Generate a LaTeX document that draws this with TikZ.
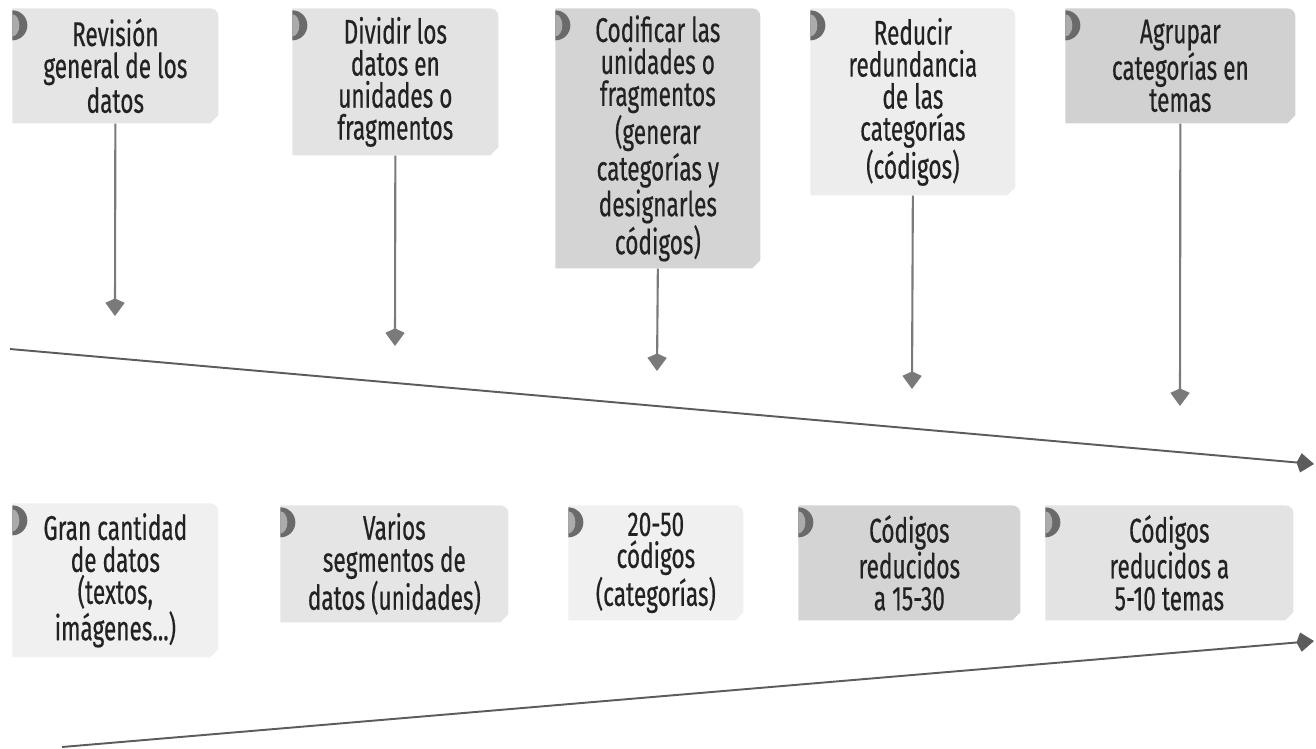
\documentclass[tikz,border=0pt]{standalone}
\usepackage{fontspec}
\setmainfont{Fira Sans}[FakeStretch=0.66, FakeBold=0.4]
\usetikzlibrary{arrows.meta, positioning}

\definecolor{linegray}{HTML}{5C5C5C}
\definecolor{arrowgray}{HTML}{7A7A7A}
\definecolor{tabgray}{HTML}{6A6A6A}
\definecolor{tablight}{HTML}{ABABAB}
\definecolor{textgray}{HTML}{222222}

\tikzset{
  stepbox/.style n args={3}{anchor=north west, inner sep=0pt, align=center,
    minimum width=#1*0.02cm, minimum height=#2*0.02cm,
    text=textgray, font=\fontsize{19.5}{18.2}\selectfont,
    path picture={
      \fill[#3] (path picture bounding box.south west) -- (path picture bounding box.north west)
        -- ([xshift=-0.16cm]path picture bounding box.north east)
        arc[start angle=90, end angle=0, radius=0.16cm]
        -- ([yshift=0.16cm]path picture bounding box.south east)
        -- ([xshift=-0.16cm]path picture bounding box.south east) -- cycle;
      % tab
      \fill[tabgray] ([yshift=-0.04cm]path picture bounding box.north west)
        arc[start angle=90, end angle=-90, x radius=0.3cm, y radius=0.3cm] -- cycle;
      \fill[tablight] ([yshift=-0.12cm]path picture bounding box.north west)
        arc[start angle=90, end angle=-90, x radius=0.14cm, y radius=0.22cm] -- cycle;
    }},
  drop/.style={arrowgray, line width=1.2pt, -{Kite[length=10pt, width=11pt, inset=2.5pt]}},
  mainline/.style={linegray, line width=1.1pt, -{Kite[length=10pt, width=11pt, inset=2.5pt]}},
}

\begin{document}
\begin{tikzpicture}[x=0.02cm, y=-0.02cm]
  \useasboundingbox (0,0) rectangle (1316,748);

  % Steps (top row)
  \node[stepbox={206}{115}{black!10}] (t1) at (12,8) {Revisión\\general de los\\datos};
  \node[stepbox={206}{147}{black!11}] (t2) at (292,8) {Dividir los\\datos en\\unidades o\\fragmentos};
  \node[stepbox={205}{260}{black!17}] (t3) at (555,8) {Codificar las\\unidades o\\fragmentos\\(generar\\categorías y\\designarles\\códigos)};
  \node[stepbox={205}{187}{black!7}] (t4) at (810,8) {Reducir\\redundancia\\de las\\categorías\\(códigos)};
  \node[stepbox={230}{115}{black!18}] (t5) at (1065,8) {Agrupar\\categorías en\\temas};

  % Ends of the step arrows
  \coordinate (e1) at (115,316);
  \coordinate (e2) at (395,346);
  \coordinate (e3) at (657,371);
  \coordinate (e4) at (912,389);
  \coordinate (e5) at (1180,406);

  \draw[drop] (t1.south) -- (e1);
  \draw[drop] (t2.south) -- (e2);
  \draw[drop] (t3.south) -- (e3);
  \draw[drop] (t4.south) -- (e4);
  \draw[drop] (t5.south) -- (e5);

  % Falling line
  \coordinate (fallstart) at (10,349);
  \coordinate (fallend) at (1314,464);
  \draw[mainline] (fallstart) -- (fallend);

  % Results (bottom row)
  \node[stepbox={206}{154}{black!6}] (b1) at (12,503) {Gran cantidad\\de datos\\(textos,\\imágenes...)};
  \node[stepbox={228}{117}{black!10}] (b2) at (280,505) {Varios\\segmentos de\\datos (unidades)};
  \node[stepbox={175}{115}{black!6}] (b3) at (568,505) {20-50\\códigos\\(categorías)};
  \node[stepbox={222}{115}{black!17}] (b4) at (798,505) {Códigos\\reducidos\\a 15-30};
  \node[stepbox={248}{115}{black!11}] (b5) at (1045,505) {Códigos\\reducidos a\\5-10 temas};

  % Rising line
  \coordinate (risestart) at (62,747);
  \coordinate (riseend) at (1314,641);
  \draw[mainline] (risestart) -- (riseend);
\end{tikzpicture}
\end{document}
